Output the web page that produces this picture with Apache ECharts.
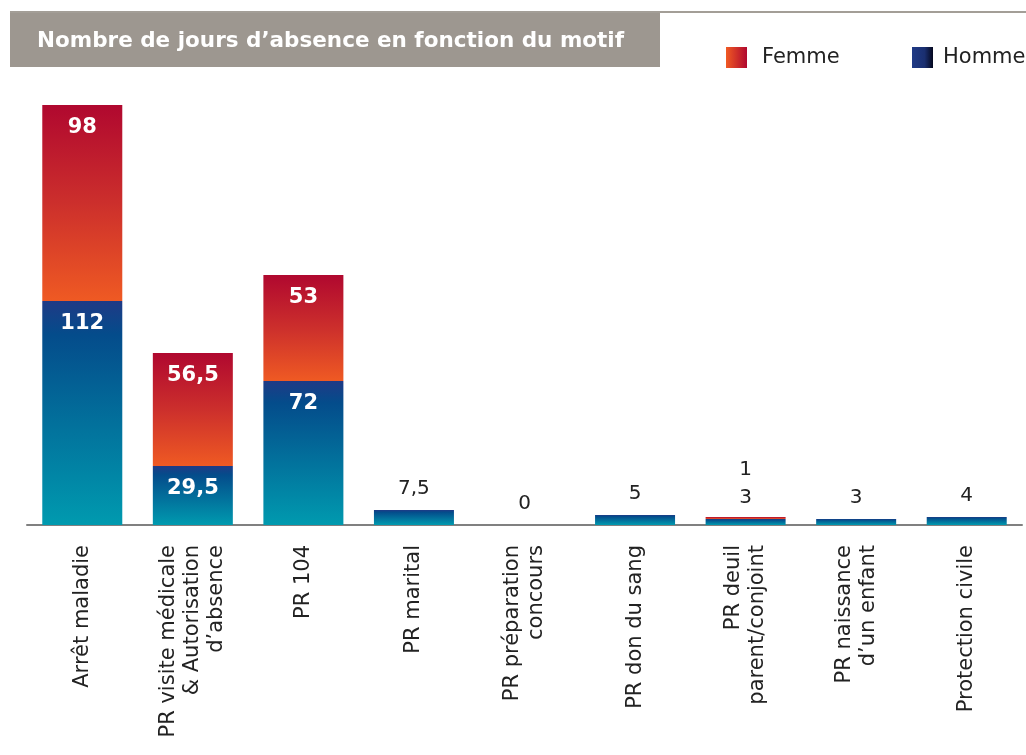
<!DOCTYPE html>
<html>
<head>
<meta charset="utf-8">
<script src="https://cdn.jsdelivr.net/npm/echarts@6/dist/echarts.min.js"></script>
<style>
  html, body { margin: 0; padding: 0; background: #fff; }
  #chart { width: 1026px; height: 755px; }
</style>
</head>
<body>
<div id="chart"></div>
<script>
// categories and values
const categories = [
  'Arrêt maladie',
  'PR visite médicale\n& Autorisation\nd’absence',
  'PR 104',
  'PR marital',
  'PR préparation\nconcours',
  'PR don du sang',
  'PR deuil\nparent/conjoint',
  'PR naissance\nd’un enfant',
  'Protection civile'
]
const homme = [112, 29.5, 72, 7.5, 0, 5, 3, 3, 4]
const femme = [98, 56.5, 53, 0, 0, 0, 1, 0, 0]

const FONT = '"DejaVu Sans", sans-serif'
const fmt = v => String(v).replace('.', ',')

const gradHomme = new echarts.graphic.LinearGradient(0, 0, 0, 1, [
  { offset: 0, color: '#1f3a86' },
  { offset: 0.15, color: '#044c8b' },
  { offset: 1, color: '#009aaf' }
])
const gradFemme = new echarts.graphic.LinearGradient(0, 0, 0, 1, [
  { offset: 0, color: '#b0082f' },
  { offset: 0.5, color: '#cc2f2c' },
  { offset: 1, color: '#ef5a23' }
])

// big bars get a white bold label inside, small ones a plain label above
function bigLabel() {
  return { show: true, position: 'insideTop', distance: 12, color: '#fff',
    fontWeight: 'bold', fontSize: 21, fontFamily: FONT, formatter: p => fmt(p.value) }
}
function smallLabel(dist) {
  return { show: true, position: 'top', distance: dist, color: '#222',
    fontWeight: 'normal', fontSize: 20, fontFamily: FONT, formatter: p => fmt(p.value) }
}

const hommeData = homme.map(v => ({ value: v, label: v >= 20 ? bigLabel() : smallLabel(11) }))
const femmeData = femme.map(v => {
  if (v >= 20) return { value: v, label: bigLabel() }
  if (v > 0) return { value: v, label: smallLabel(37) }
  return { value: v, label: { show: false } }
})

const legendText = pad => ({ fontSize: 21, color: '#222', fontFamily: FONT, padding: [0, 0, 0, pad] })

const chart = echarts.init(document.getElementById('chart'))
chart.setOption({
  animation: false,
  grid: { left: 27, right: 4, top: 105, bottom: 230 },
  graphic: [
    { type: 'rect', shape: { x: 10, y: 11, width: 1016, height: 2 }, style: { fill: '#a39e97' } },
    { type: 'rect', shape: { x: 10, y: 13, width: 650, height: 54 }, style: { fill: '#9d9790' } },
    { type: 'text', left: 37, top: 30, style: {
      text: 'Nombre de jours d’absence en fonction du motif',
      fill: '#fff', font: 'bold 21.5px ' + FONT } }
  ],
  legend: [
    { left: 721, top: 42, itemWidth: 21, itemHeight: 21, itemGap: 0, textStyle: legendText(10),
      data: [{ name: 'Femme', icon: 'rect', itemStyle: { color: new echarts.graphic.LinearGradient(0, 0, 1, 0, [
        { offset: 0, color: '#f05a23' }, { offset: 1, color: '#b0082f' }]) } }] },
    { left: 907, top: 42, itemWidth: 21, itemHeight: 21, itemGap: 0, textStyle: legendText(5),
      data: [{ name: 'Homme', icon: 'rect', itemStyle: { color: new echarts.graphic.LinearGradient(0, 0, 1, 0, [
        { offset: 0, color: '#1f3a86' }, { offset: 0.6, color: '#1a2f70' }, { offset: 1, color: '#05081e' }]) } }] }
  ],
  xAxis: {
    type: 'category',
    data: categories,
    axisLine: { lineStyle: { color: '#808080', width: 2 } },
    axisTick: { show: false },
    axisLabel: { rotate: 90, margin: 20, interval: 0, color: '#222', fontSize: 21,
      fontFamily: FONT, lineHeight: 24, align: 'right' }
  },
  yAxis: {
    type: 'value', min: 0, max: 210, show: false, splitLine: { show: false }
  },
  series: [
    { name: 'Homme', type: 'bar', stack: 'total', barWidth: 80,
      itemStyle: { color: gradHomme }, data: hommeData },
    { name: 'Femme', type: 'bar', stack: 'total', barWidth: 80,
      itemStyle: { color: gradFemme }, data: femmeData }
  ]
})
</script>
</body>
</html>
